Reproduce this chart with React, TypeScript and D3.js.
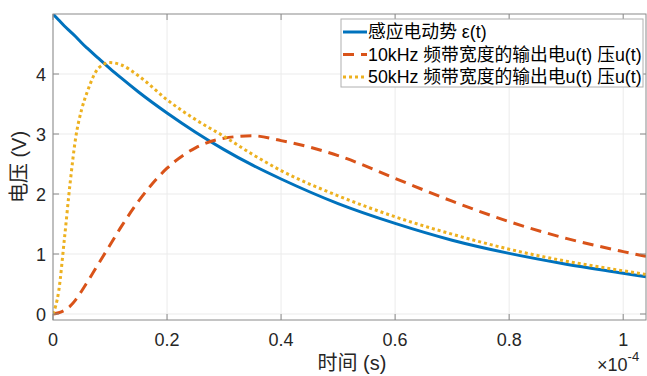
import * as d3 from "d3";

// time in units of 1e-4 s
const times = [0, 0.01, 0.02, 0.03, 0.04, 0.05, 0.06, 0.08, 0.1, 0.12, 0.15, 0.2, 0.25, 0.3, 0.35, 0.4, 0.5, 0.6, 0.7, 0.8, 0.9, 1.0, 1.04];
const emf = [5, 4.9, 4.8, 4.71, 4.62, 4.52, 4.43, 4.26, 4.09, 3.93, 3.7, 3.35, 3.03, 2.74, 2.48, 2.25, 1.84, 1.51, 1.23, 1.01, 0.83, 0.68, 0.62];
const out10k = [0, 0.02, 0.06, 0.13, 0.24, 0.38, 0.53, 0.84, 1.15, 1.46, 1.88, 2.43, 2.77, 2.93, 2.97, 2.89, 2.64, 2.26, 1.88, 1.54, 1.26, 1.04, 0.96];
const out50k = [0, 0.38, 1.25, 2.18, 2.95, 3.4, 3.7, 4.1, 4.19, 4.15, 3.97, 3.57, 3.24, 2.96, 2.66, 2.39, 1.97, 1.62, 1.33, 1.08, 0.88, 0.72, 0.66];

const xTicks = [0, 0.2, 0.4, 0.6, 0.8, 1];
const yTicks = [0, 1, 2, 3, 4];
const legendLabels = ["感应电动势 ε(t)", "10kHz 频带宽度的输出电u(t) 压u(t)", "50kHz 频带宽度的输出电u(t) 压u(t)"];

const colors = ["#0072BD", "#D95319", "#EDB120"];
const dashes = [undefined, "11 7", "3 3"];
const font = "'Liberation Sans', Arial, 'Noto Sans CJK SC', sans-serif";

export default function App() {
  const width = 647;
  const height = 376;
  const m = { left: 53, right: 646, top: 14, bottom: 320 };
  const x = d3.scaleLinear([0, 1.04], [m.left, m.right]);
  const y = d3.scaleLinear([-0.1, 5], [m.bottom, m.top]);
  const line = d3
    .line<number>()
    .x((_, i) => x(times[i]))
    .y((v) => y(v))
    .curve(d3.curveMonotoneX);
  const series = [emf, out10k, out50k];
  const axisColor = "#8a8a8a";

  return (
    <svg
      width={width}
      height={height}
      viewBox={`0 0 ${width} ${height}`}
      style={{ position: "absolute", left: 0, top: 0, background: "#fff" }}
      fontFamily={font}
    >
      <defs>
        <clipPath id="plotArea">
          <rect x={m.left} y={m.top} width={m.right - m.left} height={m.bottom - m.top} />
        </clipPath>
      </defs>
      {/* grid */}
      {xTicks.map((t) => (
        <line key={"gx" + t} x1={x(t)} x2={x(t)} y1={m.top} y2={m.bottom} stroke="#ebebeb" />
      ))}
      {yTicks.map((t) => (
        <line key={"gy" + t} x1={m.left} x2={m.right} y1={y(t)} y2={y(t)} stroke="#ebebeb" />
      ))}
      {/* curves */}
      <g clipPath="url(#plotArea)">
        {series.map((s, i) => (
          <path
            key={i}
            d={line(s) ?? ""}
            fill="none"
            stroke={colors[i]}
            strokeWidth={3}
            strokeDasharray={dashes[i]}
          />
        ))}
      </g>
      {/* box */}
      <rect
        x={m.left}
        y={m.top}
        width={m.right - m.left}
        height={m.bottom - m.top}
        fill="none"
        stroke={axisColor}
        strokeWidth={1}
      />
      {/* ticks */}
      {xTicks.map((t) => (
        <g key={"tx" + t}>
          <line x1={x(t)} x2={x(t)} y1={m.bottom} y2={m.bottom - 6} stroke={axisColor} />
          <line x1={x(t)} x2={x(t)} y1={m.top} y2={m.top + 6} stroke={axisColor} />
          <text x={x(t)} y={m.bottom + 26} textAnchor="middle" fontSize={18} fill="#262626">
            {t}
          </text>
        </g>
      ))}
      {yTicks.map((t) => (
        <g key={"ty" + t}>
          <line x1={m.left} x2={m.left + 6} y1={y(t)} y2={y(t)} stroke={axisColor} />
          <line x1={m.right} x2={m.right - 6} y1={y(t)} y2={y(t)} stroke={axisColor} />
          <text x={m.left - 7} y={y(t) + 6.5} textAnchor="end" fontSize={18} fill="#262626">
            {t}
          </text>
        </g>
      ))}
      {/* exponent */}
      <text x={597} y={371} fontSize={18} fill="#262626">
        ×10
        <tspan fontSize={13} dy={-10}>-4</tspan>
      </text>
      {/* axis labels */}
      <text x={352} y={370} textAnchor="middle" fontSize={20} fill="#262626">
        时间 (s)
      </text>
      <text
        transform={`translate(26,${(m.top + m.bottom) / 2}) rotate(-90)`}
        textAnchor="middle"
        fontSize={20}
        fill="#262626"
      >
        电压 (V)
      </text>
      {/* legend */}
      <g>
        <rect x={341} y={19} width={302} height={68} fill="#fff" stroke="#b0b0b0" />
        {legendLabels.map((lab, i) => {
          const cy = 32 + i * 22.5;
          return (
            <g key={lab}>
              <line
                x1={343}
                x2={367}
                y1={cy}
                y2={cy}
                stroke={colors[i]}
                strokeWidth={3}
                strokeDasharray={dashes[i]}
              />
              <text x={368} y={cy + 6} fontSize={17.8} fill="#000">
                {lab}
              </text>
            </g>
          );
        })}
      </g>
    </svg>
  );
}
